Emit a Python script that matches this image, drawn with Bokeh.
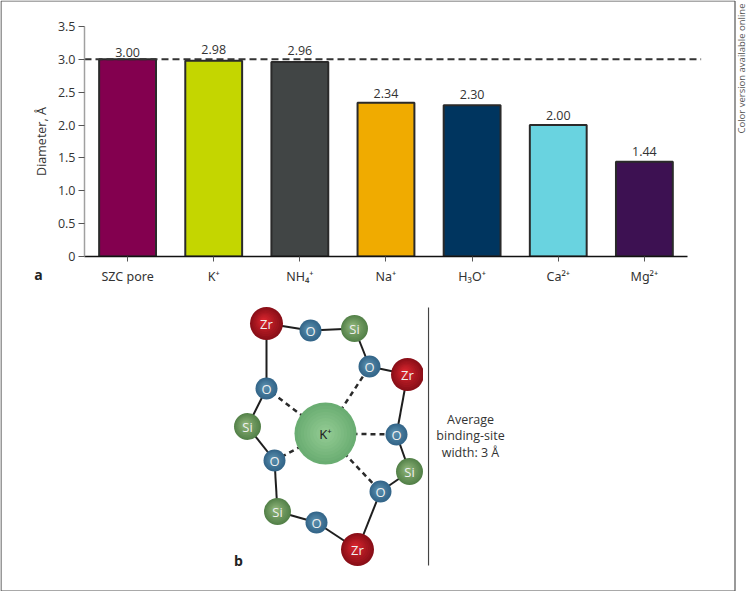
import numpy as np
from bokeh.plotting import figure
from bokeh.layouts import column
from bokeh.models import (ColumnDataSource, FixedTicker, Range1d, LinearAxis, BoxAnnotation)
from bokeh.core.properties import value
from bokeh.embed import file_html
from bokeh.resources import INLINE

FONT = "Open Sans"
TXT = "#333333"

categories = ["SZC pore", "K⁺", "NH₄⁺", "Na⁺", "H₃O⁺", "Ca²⁺", "Mg²⁺"]
diameters = [3.00, 2.98, 2.96, 2.34, 2.30, 2.00, 1.44]
value_labels = ["3.00", "2.98", "2.96", "2.34", "2.30", "2.00", "1.44"]
bar_colors = ["#83004f", "#c4d600", "#414545", "#f0ab00", "#00355f", "#69d3e0", "#3d1152"]
label_lift = [2.5, 6.5, 6.5, 5, 6, 5, 6]
y_ticks = [0, 0.5, 1.0, 1.5, 2.0, 2.5, 3.0, 3.5]
reference_line = 3.0

atom_names = ["Zr", "O", "Si", "O", "Zr", "O", "Si", "O", "Zr", "O", "Si", "O", "Si", "O"]
atom_x = [266, 310, 354, 369, 407, 396, 409, 380, 357, 316, 277, 274, 247, 266]
atom_y = [323, 330, 328, 366, 374, 434, 471, 491, 549, 522, 511, 460, 426, 388]
ion_x, ion_y = 325, 433
coordinated = [13, 3, 5, 7, 11]
side_lines = ["Average", "binding-site", "width: 3 Å"]

W, H1, H2 = 746, 296, 295

x = list(range(len(categories)))
src = ColumnDataSource(dict(x=x, top=diameters, color=bar_colors, label=value_labels,
                            lift=[-v for v in label_lift]))
p1 = figure(width=W, height=H1, output_backend="svg", toolbar_location=None,
            x_range=Range1d(-0.5, 6.663), y_range=Range1d(0, 3.5),
            min_border_left=84, min_border_right=45, min_border_top=26, min_border_bottom=40,
            x_axis_type=None, y_axis_type=None, outline_line_color=None, background_fill_color="white")
p1.grid.visible = False
p1.frame_align = False

yax = LinearAxis(ticker=FixedTicker(ticks=y_ticks), axis_label="Diameter, Å")
yax.major_label_overrides = {0: "0", 0.5: "0.5", 1: "1.0", 1.5: "1.5", 2: "2.0", 2.5: "2.5", 3: "3.0", 3.5: "3.5"}
yax.axis_line_color = "#a0a0a0"; yax.axis_line_width = 1.5
yax.major_tick_line_color = "#555555"; yax.major_tick_out = 6; yax.major_tick_in = 0
yax.minor_tick_line_color = None
yax.major_label_text_font = FONT; yax.major_label_text_font_size = "12.5px"; yax.major_label_text_color = TXT
yax.major_label_standoff = 3
yax.axis_label_text_font = FONT; yax.axis_label_text_font_size = "12.5px"; yax.axis_label_text_font_style = "normal"
yax.axis_label_text_color = TXT; yax.axis_label_standoff = 5
p1.add_layout(yax, "left")

xax = LinearAxis(ticker=FixedTicker(ticks=x), bounds=(-0.5, 6.5))
xax.major_label_overrides = {i: c for i, c in enumerate(categories)}
xax.axis_line_color = "#111111"; xax.axis_line_width = 1.5
xax.major_tick_line_color = "#555555"; xax.major_tick_out = 5; xax.major_tick_in = 0
xax.minor_tick_line_color = None
xax.major_label_text_font = "Noto Sans"; xax.major_label_text_font_size = "12.5px"; xax.major_label_text_color = TXT
xax.major_label_standoff = 6
p1.add_layout(xax, "below")

p1.vbar(x="x", top="top", bottom=0, width=0.66, source=src, fill_color="color",
        line_color="#2a2a2a", line_width=2)
p1.segment(x0=[-0.5], x1=[6.66], y0=[reference_line], y1=[reference_line],
           line_color="#333333", line_width=2, line_dash="7 4")
p1.text(x="x", y="top", text="label", source=src, text_align="center", text_baseline="bottom",
        y_offset="lift", text_font=value(FONT), text_font_size="12.5px", text_color=TXT)

# ---- panel b
p2 = figure(width=W, height=H2, output_backend="svg", toolbar_location=None,
            x_range=Range1d(0, W), y_range=Range1d(591, H1), min_border=0,
            x_axis_type=None, y_axis_type=None, outline_line_color=None)
p2.grid.visible = False
p2.frame_align = False

n = len(atom_x)
bx0 = atom_x; bx1 = [atom_x[(i + 1) % n] for i in range(n)]
by0 = atom_y; by1 = [atom_y[(i + 1) % n] for i in range(n)]
p2.segment(bx0, by0, bx1, by1, line_color="#1e1e1e", line_width=2)
p2.segment([ion_x] * 5, [ion_y] * 5, [atom_x[i] for i in coordinated], [atom_y[i] for i in coordinated],
           line_color="#2a2a2a", line_width=2.5, line_dash="5 4")

STY = {"Zr": (16.5, "#8a0f18", "#d9252e"), "O": (11, "#35678a", "#5a8fae"), "Si": (13.5, "#55824a", "#8fb57a")}
def hexmix(a, b, t):
    ca = [int(a[i:i + 2], 16) for i in (1, 3, 5)]; cb = [int(b[i:i + 2], 16) for i in (1, 3, 5)]
    return "#%02x%02x%02x" % tuple(int(round(u + (v - u) * t)) for u, v in zip(ca, cb))
def ball(cx, cy, r, edge, core, shift=0.18, steps=10):
    for k in range(steps):
        f = 1 - k / steps
        off = (1 - f) * r * shift
        p2.circle(x=[cx - off], y=[cy - off], radius=r * f, fill_color=hexmix(edge, core, k / (steps - 1)), line_color=None)
ball(ion_x, ion_y, 31, "#6aad72", "#93cb93", shift=0.0)
for name, ax, ay in zip(atom_names, atom_x, atom_y):
    r, e, c = STY[name]
    ball(ax, ay, r, e, c)
p2.text(x=atom_x, y=atom_y, text=atom_names, text_align="center", text_baseline="middle",
        text_font=value(FONT), text_font_size="13px", text_color="#f0f0f0")
p2.text(x=[ion_x], y=[ion_y], text=["K⁺"], text_align="center", text_baseline="middle",
        text_font=value("Noto Sans"), text_font_size="13px", text_color="#222222")
p2.add_layout(BoxAnnotation(left=422.5, right=427, top=300, bottom=590, fill_color="white", fill_alpha=1, line_color=None))
p2.segment([428], [307], [428], [565], line_color="#444444", line_width=1.2)
p2.text(x=[470] * 3, y=[419, 435, 452], text=side_lines, text_align="center", text_baseline="middle",
        text_font=value(FONT), text_font_size="12.5px", text_color=TXT)
p2.text(x=[238], y=[560], text=["b"], text_align="center", text_baseline="middle", text_font=value(FONT),
        text_font_size="14px", text_font_style="bold", text_color="#222222")

# ---- transparent overlay for the page frame and the texts outside the chart area
p3 = figure(width=W, height=H1 + H2, output_backend="svg", toolbar_location=None,
            x_range=Range1d(0, W), y_range=Range1d(H1 + H2, 0), min_border=0,
            x_axis_type=None, y_axis_type=None, outline_line_color=None,
            background_fill_alpha=0, border_fill_alpha=0,
            styles={"position": "absolute", "left": "0px", "top": "0px", "pointer-events": "none"})
p3.grid.visible = False
p3.frame_align = False
p3.segment([0.5, 0.5, 734.5, 0.5], [0.5, 0.5, 0.5, 590.5], [734.5, 0.5, 734.5, 734.5], [0.5, 590.5, 590.5, 590.5],
           line_color="#555555", line_width=1.2)
p3.text(x=[38], y=[274], text=["a"], text_align="center", text_baseline="middle", text_font=value(FONT),
        text_font_size="14px", text_font_style="bold", text_color="#222222")
p3.text(x=[741], y=[68], text=["Color version available online"], angle=[np.pi / 2], text_align="center",
        text_baseline="middle", text_font=value(FONT), text_font_size="9.5px", text_color="#555555")

page = column(p1, p2, p3, spacing=0)
open("out.html", "w").write(file_html(page, INLINE))
